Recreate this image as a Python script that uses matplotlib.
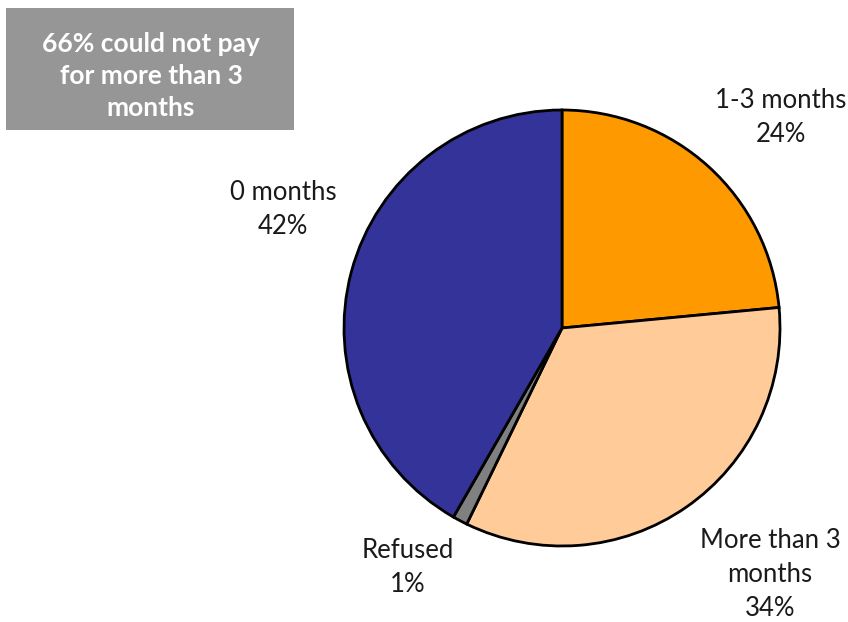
import matplotlib
matplotlib.use("Agg")
import matplotlib.pyplot as plt
from matplotlib.patches import Rectangle

categories = ["1-3 months", "More than 3\nmonths", "Refused", "0 months"]
values = [23.5, 33.7, 1.1, 41.7]
colors = ["#FF9900", "#FFCC99", "#808080", "#333399"]
callout = "66% could not pay\nfor more than 3\nmonths"

plt.rcParams['font.family'] = ['Lato', 'DejaVu Sans']

W, H = 848, 622
fig = plt.figure(figsize=(W / 100, H / 100), dpi=100)
ax = fig.add_axes([0, 0, 1, 1])

cx, cy, r = 562, H - 328, 218
ax.pie(values, colors=colors, startangle=90, counterclock=False,
       center=(cx, cy), radius=r, frame=True,
       wedgeprops=dict(edgecolor='black', linewidth=2))
ax.set_xlim(0, W)
ax.set_ylim(0, H)
ax.set_aspect('equal')
ax.axis('off')

label_pos = [(781, H - 118), (770, H - 574), (408, H - 568), (283, H - 209)]
for cat, v, (x, y) in zip(categories, values, label_pos):
    ax.text(x, y, f"{cat}\n{round(v)}%", ha='center', va='center',
            fontsize=18.5, color='#1a1a1a', linespacing=1.45)

ax.add_patch(Rectangle((6, H - 130), 288, 122, facecolor='#969696',
                       edgecolor='none', zorder=0))
ax.text(151, H - 76, callout, ha='center', va='center', fontsize=19,
        fontweight='bold', color='white', linespacing=1.4)

fig.savefig("out.png", dpi=100)
